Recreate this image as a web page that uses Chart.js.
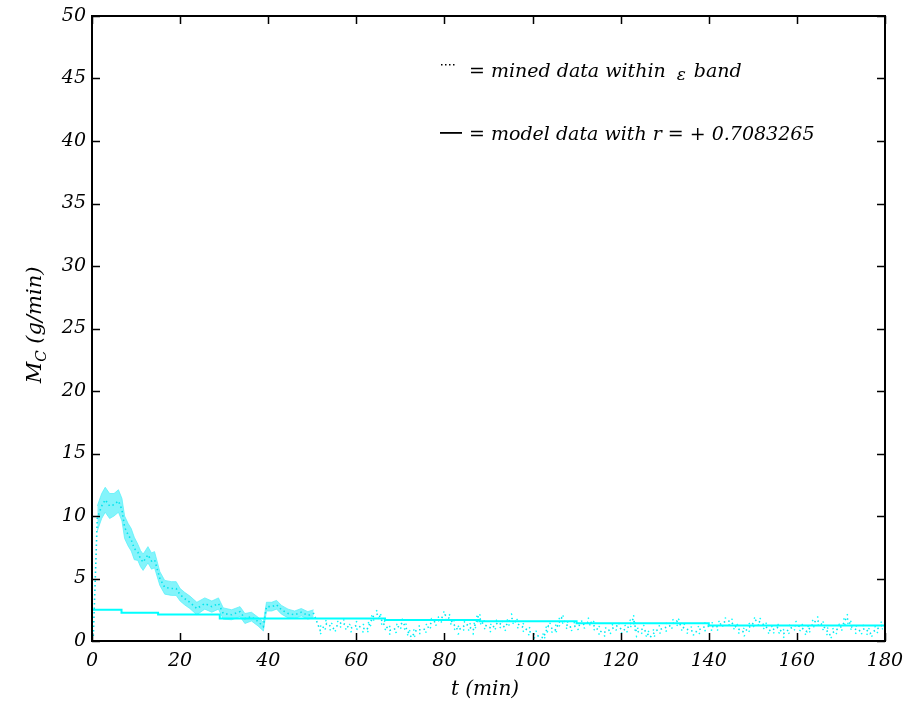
<!DOCTYPE html>
<html>
<head>
<meta charset="utf-8">
<script src="https://cdn.jsdelivr.net/npm/chart.js@4.4.1/dist/chart.umd.min.js"></script>
<style>
  html, body { margin: 0; padding: 0; background: #ffffff; }
  #wrap { width: 907px; height: 710px; }
</style>
</head>
<body>
<div id="wrap"><canvas id="c" width="907" height="710"></canvas></div>
<script>
// Mined MC data (g/min) against time t (min)
const minedT = [0.3, 0.7, 1.2, 2.2, 3, 4, 5, 6, 6.8, 7.4, 8.2, 8.9, 9.6, 10.4, 11, 11.6, 12.7, 13.5, 14.2,
  15.4, 16.5, 18, 19.1, 20, 21, 22.2, 23.8, 25.6, 27.2, 28.7, 29.8, 31.7, 33.6, 34.7, 36.2, 37.7, 38.9,
  39.6, 40.8, 41.9, 43, 44.5, 46, 47.5, 49, 50.3, 51.8, 53.3, 54.8, 56.7, 58.6, 60.1, 62.4, 63.8, 65,
  66.1, 67.6, 69.1, 70.6, 71.8, 72.5, 73.7, 75.2, 76.3, 77.1, 78.6, 80.1, 81.3, 83.1, 85, 86.5, 87.7,
  88.8, 90.7, 92.2, 93.7, 95.2, 96.7, 98.3, 99.8, 101.3, 102.4, 103.6, 105.1, 106.6, 108.2, 110, 111.9,
  113, 114.5, 116, 117.6, 119.1, 120.6, 121.7, 122.9, 123.6, 125.1, 126.7, 128.1, 129.6, 131.1, 132.7,
  134.1, 135.6, 137.2, 138.7, 140.2, 141.7, 143.2, 144.8, 146.5, 148, 149.5, 150.8, 152.5, 154, 155.5,
  157, 158.5, 160, 161.3, 162.3, 163.5, 164.5, 166, 167.5, 169, 170.3, 171.3, 172.5, 174, 175.5, 176.6,
  178, 179.5];
const minedM = [0.4, 4.5, 9.8, 10.8, 11.3, 10.8, 10.9, 11.2, 10.5, 9.1, 8.5, 8.1, 7.4, 7.1, 6.6, 6.3, 6.9, 6.4, 6.5,
  5.0, 4.3, 4.2, 4.2, 3.7, 3.4, 3.1, 2.6, 3.0, 2.75, 3.0, 2.2, 2.1, 2.35, 1.8, 1.95, 1.55, 1.15,
  2.75, 2.75, 2.9, 2.5, 2.2, 2.1, 2.3, 2.05, 2.2, 0.85, 1.4, 1.0, 1.5, 1.0, 1.25, 0.9, 1.95, 2.2,
  1.4, 0.85, 1.0, 1.5, 0.7, 0.3, 0.9, 0.9, 1.1, 1.5, 1.6, 2.1, 1.75, 0.85, 1.35, 0.85, 2.0,
  1.35, 1.0, 1.5, 1.1, 1.85, 1.35, 1.0, 0.65, 0.4, 0.25, 1.2, 0.85, 1.85, 1.1, 1.2, 1.35,
  1.6, 1.0, 0.65, 0.9, 1.2, 0.85, 1.1, 1.8, 0.65, 1.0, 0.3, 0.85, 1.0, 1.2, 1.6,
  1.1, 0.85, 0.75, 1.1, 1.2, 1.1, 1.5, 1.6, 1.0, 0.7, 1.2, 1.7, 1.3, 0.8, 1.1,
  0.6, 1.0, 1.3, 1.0, 0.75, 1.3, 1.7, 1.2, 0.5, 0.9, 1.2, 1.9, 1.1, 0.8, 1.0, 0.6,
  0.9, 1.3];

// Half width of the epsilon band, one entry per 5-minute bin
const bandHalf = [1.0, 0.9, 0.65, 0.55, 0.5, 0.45, 0.4, 0.35, 0.35, 0.3, 0.3,
  0.3, 0.3, 0.3, 0.3, 0.3, 0.3, 0.3, 0.3, 0.3, 0.3, 0.3, 0.3, 0.3, 0.3, 0.3,
  0.3, 0.3, 0.3, 0.3, 0.3, 0.3, 0.3, 0.3, 0.3, 0.3, 0.3];
const bandShadeStart = 1.2;   // shaded band from here ...
const bandShadeEnd = 51;      // ... up to here

// Model MC (g/min), piecewise constant from each start time
const modelT = [0, 6.7, 15, 29, 66.5, 88, 110, 140, 171, 180];
const modelM = [2.72, 2.5, 2.27, 2.13, 1.8, 1.68, 1.58, 1.42, 1.25, 1.25];

const xTicks = [0, 20, 40, 60, 80, 100, 120, 140, 160, 180];
const yTicks = [0, 5, 10, 15, 20, 25, 30, 35, 40, 45, 50];

const CYAN = '#00ffff';
const CYAN_DOT = '#00e4ee';
const BAND_FILL = 'rgba(80, 240, 250, 0.7)';
const FONT = '"DejaVu Serif", "Liberation Serif", serif';

// Build point tables for the library
const minedPts = minedT.map((t, i) => ({ x: t, y: minedM[i] }));
const half = t => bandHalf[Math.min(bandHalf.length - 1, Math.floor(t / 5))];
const earlyIdx = minedT.map((t, i) => i).filter(i => minedT[i] >= bandShadeStart && minedT[i] <= bandShadeEnd);
const lateIdx = minedT.map((t, i) => i).filter(i => minedT[i] > bandShadeEnd);
const bandUpEarly = earlyIdx.map(i => ({ x: minedT[i], y: minedM[i] + half(minedT[i]) }));
const bandLoEarly = earlyIdx.map(i => ({ x: minedT[i], y: minedM[i] - half(minedT[i]) }));
const bandUpLate = lateIdx.map(i => ({ x: minedT[i], y: minedM[i] + half(minedT[i]) }));
const bandLoLate = lateIdx.map(i => ({ x: minedT[i], y: Math.max(0, minedM[i] - half(minedT[i])) }));
const modelPts = modelT.map((t, i) => ({ x: t, y: modelM[i] }));

// Box frame, inward tick marks, axis titles and the text legend
const decorations = {
  id: 'decorations',
  afterDraw(chart) {
    const { ctx, chartArea: a, scales } = chart;
    ctx.save();
    ctx.strokeStyle = '#000';
    ctx.lineWidth = 2;
    ctx.strokeRect(a.left, a.top, a.right - a.left, a.bottom - a.top);
    ctx.lineWidth = 1.5;
    const tl = 8;
    ctx.beginPath();
    xTicks.forEach(v => {
      const px = Math.round(scales.x.getPixelForValue(v)) + 0.5;
      ctx.moveTo(px, a.bottom); ctx.lineTo(px, a.bottom - tl);
      ctx.moveTo(px, a.top); ctx.lineTo(px, a.top + tl);
    });
    yTicks.forEach(v => {
      const py = Math.round(scales.y.getPixelForValue(v)) + 0.5;
      ctx.moveTo(a.left, py); ctx.lineTo(a.left + tl, py);
      ctx.moveTo(a.right, py); ctx.lineTo(a.right - tl, py);
    });
    ctx.stroke();

    // x axis title
    ctx.fillStyle = '#000';
    ctx.font = 'italic 20px ' + FONT;
    ctx.textAlign = 'center';
    ctx.textBaseline = 'middle';
    ctx.fillText('t (min)', 485, 690);

    // y axis title with subscript
    ctx.save();
    ctx.translate(34, 325);
    ctx.rotate(-Math.PI / 2);
    ctx.textAlign = 'left';
    ctx.textBaseline = 'alphabetic';
    ctx.font = 'italic 21px ' + FONT;
    const wM = ctx.measureText('M').width;
    ctx.font = 'italic 15px ' + FONT;
    const wC = ctx.measureText('C').width;
    ctx.font = 'italic 21px ' + FONT;
    const wRest = ctx.measureText(' (g/min)').width;
    const x0 = -(wM + wC + wRest) / 2;
    ctx.fillText('M', x0, 7);
    ctx.font = 'italic 15px ' + FONT;
    ctx.fillText('C', x0 + wM, 12);
    ctx.font = 'italic 21px ' + FONT;
    ctx.fillText(' (g/min)', x0 + wM + wC, 7);
    ctx.restore();

    // legend text
    ctx.textAlign = 'left';
    ctx.textBaseline = 'alphabetic';
    ctx.font = 'italic 19px ' + FONT;
    for (let i = 0; i < 4; i++) ctx.fillRect(441 + i * 4, 64, 1.5, 1.5);
    ctx.fillText('= mined data within', 469, 77);
    const wLine1 = ctx.measureText('= mined data within ').width;
    ctx.font = 'italic 17px ' + FONT;
    ctx.fillText('\u03b5', 469 + wLine1 + 5, 80);
    ctx.font = 'italic 19px ' + FONT;
    ctx.fillText('band', 469 + wLine1 + 22, 77);
    ctx.fillRect(440, 132, 22, 1.8);
    ctx.fillText('= model data with r = + 0.7083265', 469, 140);
    ctx.restore();
  }
};

new Chart(document.getElementById('c'), {
  type: 'line',
  data: {
    datasets: [
      { label: 'model', data: modelPts, borderColor: CYAN, borderWidth: 2, stepped: 'after',
        pointRadius: 0, fill: false, order: 0 },
      { label: 'mined', data: minedPts, borderColor: CYAN_DOT, borderWidth: 1.6, borderDash: [1.5, 3],
        pointRadius: 0, fill: false, tension: 0, order: 1 },
      { label: 'band upper (late)', data: bandUpLate, borderColor: CYAN, borderWidth: 1.4, borderDash: [1.5, 6],
        pointRadius: 0, fill: false, order: 2 },
      { label: 'band lower (late)', data: bandLoLate, borderColor: CYAN, borderWidth: 1.4, borderDash: [1.5, 5],
        pointRadius: 0, fill: false, order: 3 },
      { label: 'band upper', data: bandUpEarly, borderColor: BAND_FILL, borderWidth: 1,
        pointRadius: 0, fill: false, order: 4 },
      { label: 'band lower', data: bandLoEarly, borderColor: BAND_FILL, borderWidth: 1,
        backgroundColor: BAND_FILL, pointRadius: 0, fill: '-1', order: 5 }
    ]
  },
  options: {
    responsive: false,
    animation: false,
    devicePixelRatio: 1,
    layout: { padding: { top: 16, right: 22, left: 0, bottom: 0 } },
    plugins: { legend: { display: false }, tooltip: { enabled: false } },
    scales: {
      x: {
        type: 'linear', min: 0, max: 180,
        afterFit: s => { s.height = 69; s.paddingLeft = 0; s.paddingRight = 0; },
        afterBuildTicks: s => { s.ticks = xTicks.map(v => ({ value: v })); },
        grid: { display: false, drawTicks: false },
        border: { display: false },
        ticks: { color: '#000', padding: 9, maxRotation: 0, font: { family: FONT, size: 19, style: 'italic' } }
      },
      y: {
        type: 'linear', min: 0, max: 50,
        afterFit: s => { s.width = 92; s.paddingTop = 0; s.paddingBottom = 0; },
        afterBuildTicks: s => { s.ticks = yTicks.map(v => ({ value: v })); },
        grid: { display: false, drawTicks: false },
        border: { display: false },
        ticks: { color: '#000', padding: 6, font: { family: FONT, size: 19, style: 'italic' } }
      }
    }
  },
  plugins: [decorations]
});
</script>
</body>
</html>
